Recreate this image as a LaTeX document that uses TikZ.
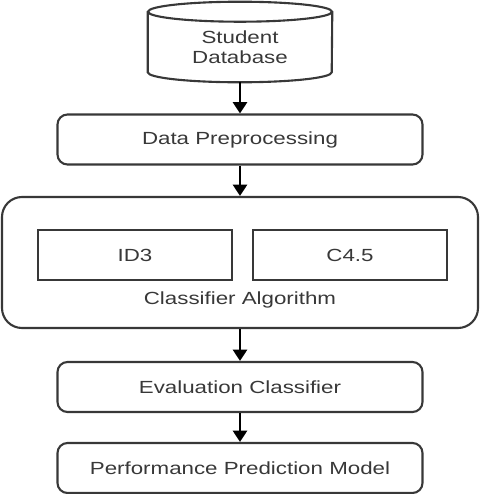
\documentclass[tikz,border=0pt]{standalone}
\usepackage{fontspec}
\setmainfont{Liberation Sans}[FakeStretch=1.27]
\usepackage{tikz}
\usetikzlibrary{arrows.meta}
\definecolor{dgray}{rgb}{0.22,0.22,0.22}
\tikzstyle{outline}=[draw=dgray, line width=1.5pt]
\tikzstyle{stage}=[rectangle, rounded corners=0.25cm, draw=dgray, line width=1.5pt, minimum width=9.125cm, minimum height=1.25cm, inner sep=0pt, text=dgray]
\tikzstyle{algo}=[rectangle, draw=dgray, line width=1.7pt, minimum width=4.85cm, minimum height=1.25cm, inner sep=0pt, text=dgray]
\tikzstyle{group}=[rectangle, rounded corners=0.5cm, draw=dgray, line width=1.5pt, minimum width=11.9cm, minimum height=3.275cm, inner sep=0pt]
\tikzstyle{flow}=[-{Triangle[width=10pt,length=8pt]}, draw=black, line width=1.6pt]

\begin{document}
\begin{tikzpicture}[font=\fontsize{12.5}{14.5}\selectfont]
            \useasboundingbox (0,0) rectangle (12,-12.35);
            % nodes
            \node [align=center, text=dgray, minimum width=4.6cm, minimum height=1.75cm, inner sep=0pt] (db) at (6, -1.175) {Student\\Database};
            \node [style=stage] (prep) at (6, -3.4875) {Data Preprocessing};
            \node [style=group] (clf) at (6, -6.5625) {};
            \node [style=algo] (id3) at (3.375, -6.375) {ID3};
            \node [style=algo] (c45) at (8.75, -6.375) {C4.5};
            \node [text=dgray] (clflabel) at (6, -7.5) {Classifier Algorithm};
            \node [style=stage] (eval) at (6, -9.675) {Evaluation Classifier};
            \node [style=stage] (model) at (6, -11.7) {Performance Prediction Model};
            % database cylinder
            \draw [style=outline] (db.north west) -- ([yshift=0.25cm]db.south west) arc[start angle=180, end angle=360, x radius=2.3cm, y radius=0.25cm] -- (db.north east);
            \draw [style=outline] (db.north) ellipse [x radius=2.3cm, y radius=0.25cm];
            % edges
            \draw [style=flow] (db.south) -- (prep.north);
            \draw [style=flow] (prep.south) -- (clf.north);
            \draw [style=flow] (clf.south) -- (eval.north);
            \draw [style=flow] (eval.south) -- (model.north);
        \end{tikzpicture}
\end{document}
